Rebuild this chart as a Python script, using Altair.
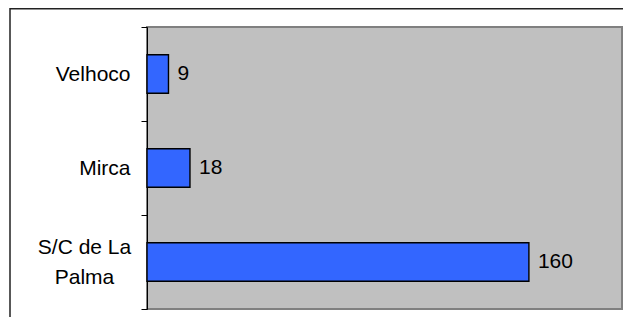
import altair as alt
import pandas as pd

categories = ["Velhoco", "Mirca", "S/C de La Palma"]
values = [9, 18, 160]

df = pd.DataFrame({"place": categories, "count": values})

FONT = "Liberation Sans"
FS = 21
IS_SC = "datum.value == 'S/C de La Palma'"

y_enc = alt.Y(
    "place:N",
    sort=categories,
    scale=alt.Scale(paddingInner=0, paddingOuter=0),
    axis=alt.Axis(
        title=None,
        tickBand="extent",
        tickSize=6,
        tickColor="black",
        tickWidth=1,
        domainColor="black",
        domainWidth=1,
        labelFont=FONT,
        labelFontSize=FS,
        labelColor="black",
        labelLineHeight=30,
        labelExpr=IS_SC + " ? ['S/C de La', 'Palma'] : datum.value",
        labelAlign={"condition": {"test": IS_SC, "value": "center"}, "value": "right"},
        labelBaseline={"condition": {"test": IS_SC, "value": "line-bottom"}, "value": "middle"},
        labelPadding={"condition": {"test": IS_SC, "value": 57}, "value": 11},
    ),
)

x_enc = alt.X("count:Q", scale=alt.Scale(domain=[0, 199], nice=False), axis=None)

bars = alt.Chart(df).mark_bar(
    color="#3366FF", stroke="black", strokeWidth=1.4, height={"band": 0.41}
).encode(x=x_enc, y=y_enc)

labels = alt.Chart(df).mark_text(
    align="left", baseline="middle", dx=9, font=FONT, fontSize=FS, color="black"
).encode(x=x_enc, y=alt.Y("place:N", sort=categories), text="count:Q")

frame = alt.Chart(pd.DataFrame({"a": [0]})).mark_rect(
    filled=False, stroke="#222222", strokeWidth=1.5
).encode(
    x=alt.value(-137), x2=alt.value(700), y=alt.value(-18.3), y2=alt.value(400)
)

chart = (
    alt.layer(frame, bars, labels)
    .properties(
        width=475,
        height=282,
        autosize=alt.AutoSizeParams(type="none"),
        padding={"left": 139, "top": 19, "right": 1, "bottom": 8},
        background="white",
    )
    .configure_view(fill="#C0C0C0", stroke="#808080", strokeWidth=2)
)

chart.save("out.html", embed_options={"renderer": "svg", "actions": False})
